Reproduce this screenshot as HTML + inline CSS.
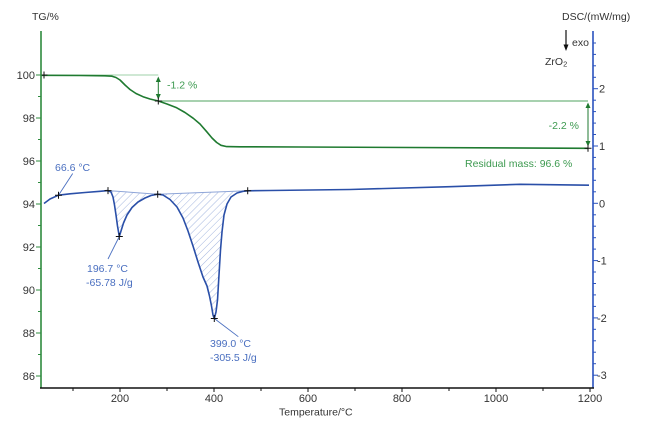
<!DOCTYPE html>
<html>
<head>
<meta charset="utf-8">
<style>
html,body{margin:0;padding:0;background:#fff;}
svg{display:block;font-family:"Liberation Sans",sans-serif;}
</style>
</head>
<body>
<svg width="649" height="424" viewBox="0 0 649 424" xmlns="http://www.w3.org/2000/svg">
<defs>
<pattern id="hatch" patternUnits="userSpaceOnUse" width="5" height="5" patternTransform="rotate(45)">
<line x1="0" y1="0" x2="0" y2="5" stroke="#9aaedc" stroke-width="0.9"/>
</pattern>
</defs>
<rect width="649" height="424" fill="#fff"/>

<!-- hatched areas -->
<path d="M108,190.6 L111,192 L113,197 L114.5,205 L116,215 L117.5,226 L119.3,236.5 L121,231 L123.5,223 L127,215 L132,207.5 L138,202 L145,198 L151,195.5 L157.7,194.2 Z" fill="url(#hatch)"/>
<path d="M157.7,194.2 L163,195 L170,199.5 L177,207 L183,218 L188,231 L193,246 L198,262 L203,277 L207,286 L209.5,296 L211.5,306 L213,315 L214.3,318.5 L216,312 L217.5,300 L219,275 L220.5,250 L222,232 L224,215 L227,204 L231,197 L237,193 L243,191.3 L247.7,190.8 Z" fill="url(#hatch)"/>
<!-- baselines -->
<line x1="108" y1="190.6" x2="157.7" y2="194.2" stroke="#8ea5d8" stroke-width="1"/>
<line x1="157.7" y1="194.2" x2="247.7" y2="190.8" stroke="#8ea5d8" stroke-width="1"/>

<!-- TG reference lines -->
<line x1="44" y1="75" x2="158.3" y2="75" stroke="#9fd0a8" stroke-width="1"/>
<line x1="158.3" y1="101" x2="588" y2="101" stroke="#4fa35f" stroke-width="1"/>

<!-- TG curve -->
<path d="M41,75.3 L80,75.5 L105,75.8 L112,76.2 L116,77.5 L120,80 L125,85 L130,89.5 L136,93.5 L143,96.7 L150,99 L158.3,101 L167,104 L176.7,107.8 L185,112.5 L193.3,118.3 L200,124 L206.7,131.7 L212,138 L216.7,142.5 L221,145.3 L226.7,146.6 L240,146.8 L300,147 L588,148.3" fill="none" stroke="#1f7a30" stroke-width="1.6" stroke-linejoin="round"/>

<!-- DSC curve -->
<path d="M44,203.5 L50,199 L58.5,195.2 L70,193.8 L85,192.5 L100,191.3 L108,190.6 L111,192 L113,197 L114.5,205 L116,215 L117.5,226 L119.3,236.5 L121,231 L123.5,223 L127,215 L132,207.5 L138,202 L145,198 L151,195.5 L157.7,194.2 L163,195 L170,199.5 L177,207 L183,218 L188,231 L193,246 L198,262 L203,277 L207,286 L209.5,296 L211.5,306 L213,315 L214.3,318.5 L216,312 L217.5,300 L219,275 L220.5,250 L222,232 L224,215 L227,204 L231,197 L237,193 L243,191.3 L247.7,190.8 L270,190.5 L350,189.5 L450,186.7 L520,184.3 L589,185.2" fill="none" stroke="#2a4fa8" stroke-width="1.6" stroke-linejoin="round"/>

<!-- arrows -->
<g stroke="#1f7a30" stroke-width="1" fill="#1f7a30">
<line x1="158.3" y1="79" x2="158.3" y2="97"/>
<polygon points="158.3,76.5 155.8,82 160.8,82" stroke="none"/>
<polygon points="158.3,99.5 155.8,94 160.8,94" stroke="none"/>
<line x1="588" y1="105" x2="588" y2="144"/>
<polygon points="588,102.5 585.5,108 590.5,108" stroke="none"/>
<polygon points="588,146.5 585.5,141 590.5,141" stroke="none"/>
</g>

<!-- leader lines -->
<g stroke="#4a6fc0" stroke-width="0.9">
<line x1="58.5" y1="195.2" x2="72.7" y2="173.5"/>
<line x1="119.3" y1="236.5" x2="108" y2="259"/>
<line x1="214.3" y1="318.5" x2="238.3" y2="336.7"/>
</g>

<!-- markers -->
<g stroke="#111" stroke-width="1">
<path d="M40.5,75 h7 M44,71.5 v7"/>
<path d="M154.8,101 h7 M158.3,97.5 v7"/>
<path d="M584.5,148.3 h7 M588,144.8 v7"/>
<path d="M55,195.2 h7 M58.5,191.7 v7"/>
<path d="M104.5,190.6 h7 M108,187.1 v7"/>
<path d="M115.8,236.5 h7 M119.3,233 v7"/>
<path d="M154.2,194.2 h7 M157.7,190.7 v7"/>
<path d="M210.8,318.5 h7 M214.3,315 v7"/>
<path d="M244.2,190.8 h7 M247.7,187.3 v7"/>
</g>

<!-- axes -->
<line x1="41" y1="31" x2="41" y2="388" stroke="#2e8b3e" stroke-width="1.6"/>
<line x1="593" y1="31" x2="593" y2="388" stroke="#2a52be" stroke-width="1.6"/>
<line x1="40" y1="388" x2="594" y2="388" stroke="#111" stroke-width="1.6"/>

<!-- left ticks -->
<g stroke="#2e8b3e" stroke-width="1">
<line x1="36" y1="75" x2="41" y2="75"/><line x1="38" y1="96.5" x2="41" y2="96.5"/>
<line x1="36" y1="118" x2="41" y2="118"/><line x1="38" y1="139.5" x2="41" y2="139.5"/>
<line x1="36" y1="161" x2="41" y2="161"/><line x1="38" y1="182.5" x2="41" y2="182.5"/>
<line x1="36" y1="204" x2="41" y2="204"/><line x1="38" y1="225.5" x2="41" y2="225.5"/>
<line x1="36" y1="247" x2="41" y2="247"/><line x1="38" y1="268.5" x2="41" y2="268.5"/>
<line x1="36" y1="290" x2="41" y2="290"/><line x1="38" y1="311.5" x2="41" y2="311.5"/>
<line x1="36" y1="333" x2="41" y2="333"/><line x1="38" y1="354.5" x2="41" y2="354.5"/>
<line x1="36" y1="376" x2="41" y2="376"/>
</g>
<g font-size="11" fill="#333" text-anchor="end">
<text x="35" y="79">100</text>
<text x="35" y="122">98</text>
<text x="35" y="165">96</text>
<text x="35" y="208">94</text>
<text x="35" y="251">92</text>
<text x="35" y="294">90</text>
<text x="35" y="337">88</text>
<text x="35" y="380">86</text>
</g>

<!-- right ticks -->
<g stroke="#2a52be" stroke-width="1">
<line x1="593" y1="43" x2="596" y2="43"/><line x1="593" y1="54.4" x2="596" y2="54.4"/>
<line x1="593" y1="65.8" x2="596" y2="65.8"/><line x1="593" y1="77.3" x2="596" y2="77.3"/>
<line x1="593" y1="88.7" x2="598" y2="88.7"/>
<line x1="593" y1="100.2" x2="596" y2="100.2"/><line x1="593" y1="111.6" x2="596" y2="111.6"/>
<line x1="593" y1="123.1" x2="596" y2="123.1"/><line x1="593" y1="134.5" x2="596" y2="134.5"/>
<line x1="593" y1="146" x2="598" y2="146"/>
<line x1="593" y1="157.4" x2="596" y2="157.4"/><line x1="593" y1="168.9" x2="596" y2="168.9"/>
<line x1="593" y1="180.3" x2="596" y2="180.3"/><line x1="593" y1="191.8" x2="596" y2="191.8"/>
<line x1="593" y1="203.3" x2="598" y2="203.3"/>
<line x1="593" y1="214.8" x2="596" y2="214.8"/><line x1="593" y1="226.2" x2="596" y2="226.2"/>
<line x1="593" y1="237.7" x2="596" y2="237.7"/><line x1="593" y1="249.1" x2="596" y2="249.1"/>
<line x1="593" y1="260.6" x2="598" y2="260.6"/>
<line x1="593" y1="272" x2="596" y2="272"/><line x1="593" y1="283.5" x2="596" y2="283.5"/>
<line x1="593" y1="294.9" x2="596" y2="294.9"/><line x1="593" y1="306.4" x2="596" y2="306.4"/>
<line x1="593" y1="317.9" x2="598" y2="317.9"/>
<line x1="593" y1="329.3" x2="596" y2="329.3"/><line x1="593" y1="340.8" x2="596" y2="340.8"/>
<line x1="593" y1="352.2" x2="596" y2="352.2"/><line x1="593" y1="363.7" x2="596" y2="363.7"/>
<line x1="593" y1="375.2" x2="598" y2="375.2"/>
</g>
<g font-size="11" fill="#333">
<text x="599" y="92.7">2</text>
<text x="599" y="150">1</text>
<text x="599" y="207.3">0</text>
<text x="597" y="264.6">-1</text>
<text x="597" y="321.9">-2</text>
<text x="597" y="379.2">-3</text>
</g>

<!-- bottom ticks -->
<g stroke="#111" stroke-width="1">
<line x1="73" y1="388" x2="73" y2="391"/>
<line x1="120" y1="388" x2="120" y2="392"/>
<line x1="167" y1="388" x2="167" y2="391"/>
<line x1="214" y1="388" x2="214" y2="392"/>
<line x1="261" y1="388" x2="261" y2="391"/>
<line x1="308" y1="388" x2="308" y2="392"/>
<line x1="355" y1="388" x2="355" y2="391"/>
<line x1="402" y1="388" x2="402" y2="392"/>
<line x1="449" y1="388" x2="449" y2="391"/>
<line x1="496" y1="388" x2="496" y2="392"/>
<line x1="543" y1="388" x2="543" y2="391"/>
<line x1="590" y1="388" x2="590" y2="392"/>
</g>
<g font-size="11" fill="#333" text-anchor="middle">
<text x="120" y="402">200</text>
<text x="214" y="402">400</text>
<text x="308" y="402">600</text>
<text x="402" y="402">800</text>
<text x="496" y="402">1000</text>
<text x="590" y="402">1200</text>
</g>
<text x="279" y="415.5" font-size="10.5" fill="#333">Temperature/°C</text>

<!-- axis titles -->
<text x="32" y="20" font-size="10.5" fill="#333">TG/%</text>
<text x="562" y="20" font-size="10.5" fill="#333">DSC/(mW/mg)</text>
<line x1="566" y1="30" x2="566" y2="46" stroke="#111" stroke-width="1.2"/>
<polygon points="566,51 563.5,44.5 568.5,44.5" fill="#111"/>
<text x="572" y="46" font-size="10.5" fill="#333">exo</text>
<text x="545" y="65" font-size="10.5" fill="#333">ZrO<tspan font-size="7.5" dy="1.5">2</tspan></text>

<!-- green labels -->
<g font-size="10.5" fill="#3d9a50">
<text x="167" y="88.5">-1.2 %</text>
<text x="579" y="129" text-anchor="end">-2.2 %</text>
<text x="465" y="167">Residual mass: 96.6 %</text>
</g>

<!-- blue labels -->
<g font-size="10.5" fill="#4a6fc0">
<text x="55" y="171">66.6 °C</text>
<text x="87" y="272">196.7 °C</text>
<text x="86" y="286">-65.78 J/g</text>
<text x="210" y="347">399.0 °C</text>
<text x="210" y="361">-305.5 J/g</text>
</g>
</svg>
</body>
</html>
